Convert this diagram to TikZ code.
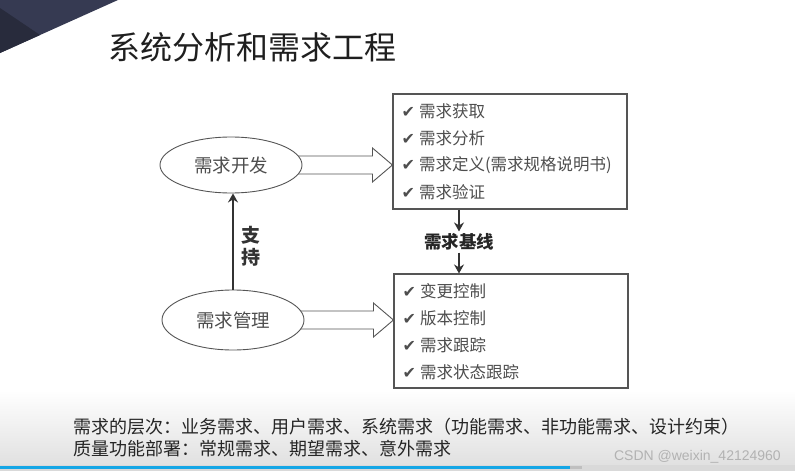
\documentclass[tikz,border=0pt]{standalone}
\usepackage{fontspec}
\setmainfont{Noto Sans CJK SC}
\newfontfamily\symfont{DejaVu Sans}
\newfontfamily\wmfont{Liberation Sans}
\usepackage{tikz}
\usetikzlibrary{arrows.meta, positioning, calc, shapes}
\usepackage{xcolor}
\definecolor{slidenavy}{RGB}{54,58,82}
\definecolor{slidedark}{RGB}{40,43,60}
\definecolor{inkgray}{RGB}{78,78,78}
\definecolor{linegray}{RGB}{85,85,85}
\definecolor{barblue}{RGB}{20,166,230}
\newcommand{\chk}{{\symfont\fontsize{16}{16}\selectfont ✔}\hspace{4pt}}
% hollow block arrow from an oval to a box
\newcommand{\blockarrow}[2]{%
  \draw[hollowarrow] let \p1=(#1.east), \p2=(#2.west) in
    (\x1-4pt,\y1+9pt) -- (\x2-20pt,\y1+9pt) -- (\x2-20pt,\y1+17pt) -- (\x2,\y1)
    -- (\x2-20pt,\y1-17pt) -- (\x2-20pt,\y1-9pt) -- (\x1-4pt,\y1-9pt);}

\begin{document}
\begin{tikzpicture}[x=1pt, y=-1pt,
  reqoval/.style={ellipse, draw=linegray, line width=0.9pt, fill=white, minimum width=142pt, minimum height=56pt, inner sep=0pt, text=inkgray, font=\fontsize{18.5}{20}\selectfont},
  listbox/.style={draw=linegray, line width=1.1pt, minimum width=234pt, minimum height=115pt, inner sep=0pt},
  checkitem/.style={anchor=west, inner sep=0pt, text=inkgray, font=\fontsize{16.5}{18}\selectfont},
  hollowarrow/.style={draw=linegray, line width=0.9pt},
  flowarrow/.style={draw=black!80, line width=1.6pt, -{Stealth[length=9pt,width=10pt,inset=3pt]}},
  footline/.style={anchor=west, inner sep=0pt, text=black!85, font=\fontsize{18}{20}\selectfont}]
  \useasboundingbox (0,0) rectangle (795,471);

  % Background
  \fill[white] (0,0) rectangle (795,471);
  \shade[top color=white, bottom color=black!12] (0,390) rectangle (795,465);
  \fill[slidenavy] (0,0) -- (118,0) -- (0,53) -- cycle;
  \fill[slidedark] (0,8) -- (40,35) -- (0,53) -- cycle;

  % Title
  \node[anchor=west, inner sep=0pt, text=black!88, font=\fontsize{32}{34}\selectfont] (title) at (108,47) {系统分析和需求工程};

  % Ovals
  \node[reqoval] (dev) at (231,165) {需求开发};
  \node[reqoval, minimum height=60pt] (mgmt) at (233,320) {需求管理};
  \draw[flowarrow] (mgmt.north) -- (mgmt.north |- dev.south);
  \node[font=\fontsize{19}{22}\selectfont\bfseries, text=black!80, align=center, inner sep=0pt] (support) at (251,246) {支\\持};

  % Boxes
  \node[listbox] (devbox) at (510,151.5) {};
  \node[listbox, minimum height=114pt] (mgmtbox) at (511,331) {};
  \foreach \t [count=\i] in {需求获取,需求分析,需求定义(需求规格说明书),需求验证}
    \node[checkitem] (d\i) at ($(devbox.north west)+(9,18)+(0,27*\i-27)$) {\chk\t};
  \foreach \t [count=\i] in {变更控制,版本控制,需求跟踪,需求状态跟踪}
    \node[checkitem] (m\i) at ($(mgmtbox.north west)+(9,18)+(0,27*\i-27)$) {\chk\t};
  \blockarrow{dev}{devbox}
  \blockarrow{mgmt}{mgmtbox}

  % Baseline
  \node[font=\fontsize{17.5}{19}\selectfont\bfseries, inner sep=2pt, text=black!85] (base) at (459,242) {需求基线};
  \draw[flowarrow] (devbox.south -| base) -- (base.north);
  \draw[flowarrow] (base.south) -- (mgmtbox.north -| base);

  % Footer
  \node[footline] (levels) at (73,427) {需求的层次：业务需求、用户需求、系统需求（功能需求、非功能需求、设计约束）};
  \node[footline] (qfd) at (73,449) {质量功能部署：常规需求、期望需求、意外需求};
  \node[anchor=east, inner sep=0pt, text=black!30, font=\wmfont\fontsize{14}{16}\selectfont] (mark) at (781,457) {CSDN @weixin\_42124960};

  % Progress bar
  \fill[black!15] (0,465) rectangle (795,471);
  \fill[barblue] (0,465.5) rectangle (570,469);
  \fill[black!25] (570,465.5) rectangle (582,469);
\end{tikzpicture}
\end{document}
